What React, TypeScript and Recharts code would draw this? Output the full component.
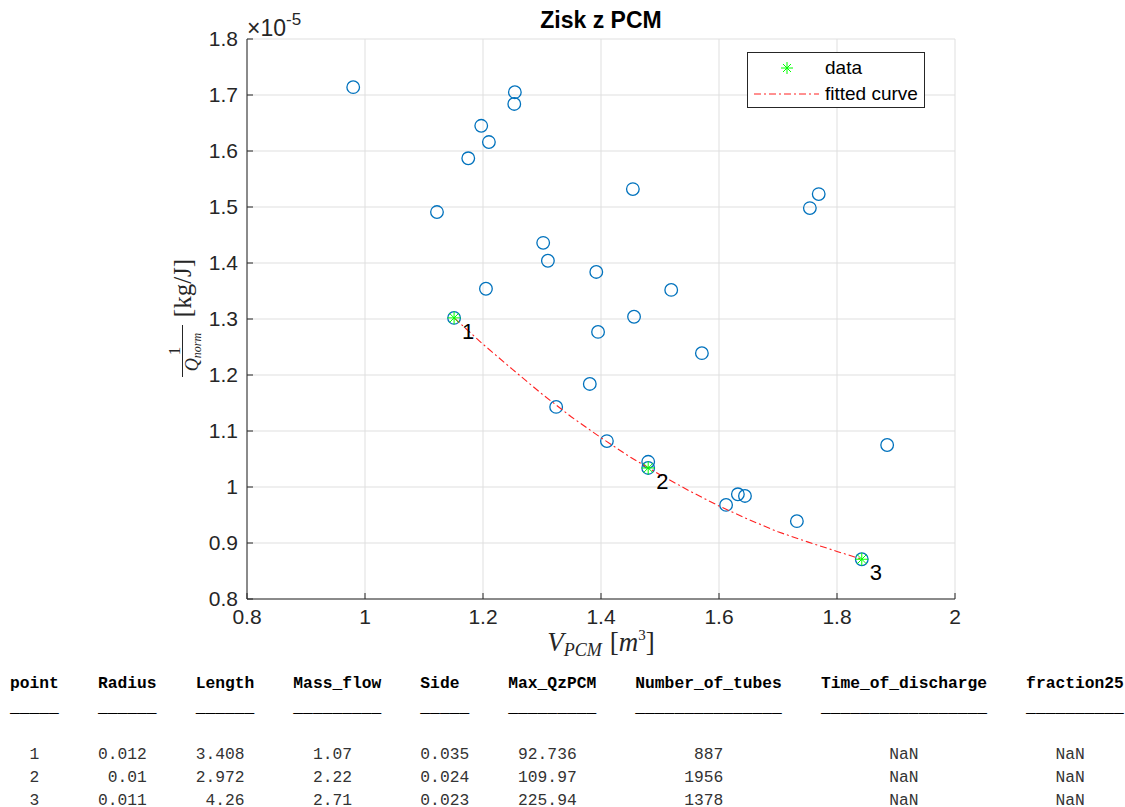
import { ScatterChart, Scatter, XAxis, YAxis, CartesianGrid, Legend } from 'recharts'

const xTicks = [0.8, 1, 1.2, 1.4, 1.6, 1.8, 2]
const yTicks = [0.8, 0.9, 1, 1.1, 1.2, 1.3, 1.4, 1.5, 1.6, 1.7, 1.8]

// V_PCM [m3] and 1/Q_norm (x 1e-5) for every tested design
const vPcm = [0.98, 1.122, 1.175, 1.197, 1.21, 1.254, 1.253, 1.205, 1.302, 1.31, 1.151, 1.324, 1.381, 1.392, 1.395,
  1.41, 1.454, 1.456, 1.48, 1.48, 1.519, 1.571, 1.612, 1.632, 1.644, 1.732, 1.754, 1.769, 1.842, 1.885]
const invQ = [1.714, 1.491, 1.587, 1.645, 1.616, 1.705, 1.684, 1.354, 1.436, 1.404, 1.302, 1.143, 1.184, 1.384, 1.277,
  1.082, 1.532, 1.304, 1.045, 1.034, 1.352, 1.239, 0.968, 0.987, 0.984, 0.939, 1.498, 1.523, 0.871, 1.075]

// pareto points picked for the fit
const fitLabels = ['1', '2', '3']
const fitX = [1.151, 1.48, 1.842]
const fitY = [1.302, 1.034, 0.871]

// fitted curve
const curveX = [1.151, 1.2, 1.25, 1.3, 1.35, 1.4, 1.45, 1.5, 1.55, 1.6, 1.65, 1.7, 1.75, 1.8, 1.842]
const curveY = [1.302, 1.255, 1.21, 1.166, 1.125, 1.088, 1.053, 1.022, 0.993, 0.966, 0.942, 0.92, 0.902, 0.885, 0.871]

// table under the plot
const headers = ['point', 'Radius', 'Length', 'Mass_flow', 'Side', 'Max_QzPCM', 'Number_of_tubes', 'Time_of_discharge', 'fraction25']
const headerCol = [0, 9, 19, 29, 42, 51, 64, 83, 104]
const colWidth = [5, 6, 6, 9, 5, 9, 15, 17, 10]
const valueEndCol = [3, 14, 24, 35, 47, 58, 73, 93, 110]
const pointNo = ['1', '2', '3']
const radius = ['0.012', '0.01', '0.011']
const length = ['3.408', '2.972', '4.26']
const massFlow = ['1.07', '2.22', '2.71']
const side = ['0.035', '0.024', '0.023']
const maxQz = ['92.736', '109.97', '225.94']
const tubes = ['887', '1956', '1378']
const timeDischarge = ['NaN', 'NaN', 'NaN']
const fraction25 = ['NaN', 'NaN', 'NaN']

const points = vPcm.map((x, i) => ({ x, y: invQ[i] }))
const fitPoints = fitX.map((x, i) => ({ x, y: fitY[i], label: fitLabels[i] }))
const curve = curveX.map((x, i) => ({ x, y: curveY[i] }))

const AXIS = '#262626'
const FIT_RED = '#ff2020'
const SANS = '"Liberation Sans", Arial, Helvetica, sans-serif'
const SERIF = '"Liberation Serif", "Times New Roman", serif'
const MONO = '"Liberation Mono", "Courier New", monospace'

function buildLine(cells: string[], startCols: number[], endCols?: number[]) {
  let s = ''
  cells.forEach((c, i) => {
    const start = endCols ? endCols[i] - c.length : startCols[i]
    s = s.padEnd(start, ' ') + c
  })
  return s
}

const headerLine = buildLine(headers, headerCol)
const underLine = buildLine(colWidth.map((w) => '_'.repeat(w)), headerCol)
const rows = pointNo.map((p, i) =>
  buildLine([p, radius[i], length[i], massFlow[i], side[i], maxQz[i], tubes[i], timeDischarge[i], fraction25[i]], headerCol, valueEndCol)
)

const Circle = (props: any) => (
  <circle cx={props.cx} cy={props.cy} r={6.3} fill="none" stroke="#0072BD" strokeWidth={1.3} />
)

const Star = (props: any) => {
  const { cx, cy, payload } = props
  const r = 6.5
  const d = 4.6
  return (
    <g>
      <g stroke="#00FF00" strokeWidth={1}>
        <line x1={cx - r} y1={cy} x2={cx + r} y2={cy} />
        <line x1={cx} y1={cy - r} x2={cx} y2={cy + r} />
        <line x1={cx - d} y1={cy - d} x2={cx + d} y2={cy + d} />
        <line x1={cx - d} y1={cy + d} x2={cx + d} y2={cy - d} />
      </g>
      <text x={cx + 8} y={cy + 21} fontSize={22} fontFamily={SANS} fill="#000">{payload.label}</text>
    </g>
  )
}

function LegendBox({ payload }: any) {
  const items = (payload || []).filter((p: any) => p.type !== 'none' && p.value !== 'points')
  items.sort((a: any) => (a.value === 'data' ? -1 : 1))
  return (
    <div style={{ width: 178, height: 56, border: `1px solid ${AXIS}`, background: '#fff', boxSizing: 'border-box', fontFamily: SANS, fontSize: 19, color: '#000', paddingTop: 2 }}>
      {items.map((p: any) => (
        <div key={p.value} style={{ display: 'flex', alignItems: 'center', height: 26 }}>
          <svg width={76} height={26}>
            {p.value === 'data' ? (
              <g stroke="#00FF00" strokeWidth={1}>
                <line x1={33} y1={13} x2={45} y2={13} />
                <line x1={39} y1={7} x2={39} y2={19} />
                <line x1={35} y1={9} x2={43} y2={17} />
                <line x1={35} y1={17} x2={43} y2={9} />
              </g>
            ) : (
              <line x1={6} y1={13} x2={71} y2={13} stroke={FIT_RED} strokeWidth={1} strokeDasharray="7 3 2 3" />
            )}
          </svg>
          <span style={{ marginLeft: 1 }}>{p.value}</span>
        </div>
      ))}
    </div>
  )
}

export default function App() {
  const tick = { fill: AXIS, fontSize: 21, fontFamily: SANS }
  return (
    <div style={{ position: 'absolute', left: 0, top: 0, width: 1125, height: 807, background: '#fff', overflow: 'hidden' }}>
      <ScatterChart width={1125} height={660} margin={{ top: 39, right: 170, left: 187, bottom: 31 }}>
        <CartesianGrid stroke="#dfdfdf" />
        <XAxis type="number" dataKey="x" domain={[0.8, 2]} ticks={xTicks} tick={tick} stroke={AXIS}
          tickSize={-6} tickMargin={16} tickFormatter={(v: number) => `${+v.toFixed(2)}`} />
        <YAxis type="number" dataKey="y" domain={[0.8, 1.8]} ticks={yTicks} tick={tick} stroke={AXIS} width={60}
          tickSize={-6} tickMargin={15} tickFormatter={(v: number) => `${+v.toFixed(2)}`} />
        <Legend layout="horizontal" verticalAlign="middle" align="center" content={<LegendBox />}
          wrapperStyle={{ left: 747, top: 52, width: 178, height: 56, right: 'auto', bottom: 'auto' }} />
        <Scatter name="points" data={points} shape={<Circle />} legendType="none" isAnimationActive={false} />
        <Scatter name="fitted curve" data={curve} line={{ stroke: FIT_RED, strokeWidth: 1.1, strokeDasharray: '7 3 2 3' }}
          lineType="joint" shape={() => <g />} isAnimationActive={false} />
        <Scatter name="data" data={fitPoints} shape={<Star />} isAnimationActive={false} />
      </ScatterChart>

      <svg width={1125} height={807} style={{ position: 'absolute', left: 0, top: 0, pointerEvents: 'none' }}>
        <text x={601} y={28} textAnchor="middle" fontFamily={SANS} fontWeight="bold" fontSize={23} fill="#000">Zisk z PCM</text>
        <text x={247} y={36} fontFamily={SANS} fontSize={23} fill={AXIS}>
          ×10<tspan dy={-11} fontSize={17}>-5</tspan>
        </text>
        <g fontFamily={SERIF} fill={AXIS}>
          <text x={180} y={351} transform="rotate(-90 180 351)" textAnchor="middle" fontSize={17}>1</text>
          <line x1={182.5} y1={325} x2={182.5} y2={377} stroke={AXIS} strokeWidth={1} />
          <text x={198} y={352} transform="rotate(-90 198 352)" textAnchor="middle" fontSize={18}>
            <tspan fontStyle="italic">Q</tspan><tspan fontStyle="italic" fontSize={12} dy={3}>norm</tspan>
          </text>
          <text x={191} y={288} transform="rotate(-90 191 288)" textAnchor="middle" fontSize={25}>[kg/J]</text>
        </g>
        <text x={601} y={651} textAnchor="middle" fontFamily={SERIF} fontSize={27} fill={AXIS}>
          <tspan fontStyle="italic">V</tspan>
          <tspan fontStyle="italic" fontSize={18} dy={5}>PCM</tspan>
          <tspan dy={-5} dx={8}>[</tspan>
          <tspan fontStyle="italic">m</tspan>
          <tspan fontSize={15} dy={-11}>3</tspan>
          <tspan dy={11}>]</tspan>
        </text>
      </svg>

      <div style={{ position: 'absolute', left: 10, top: 0, fontFamily: MONO, fontSize: 16.3, lineHeight: '16px', whiteSpace: 'pre' }}>
        <div style={{ position: 'absolute', top: 676, fontWeight: 'bold', color: '#000' }}>{headerLine}</div>
        <div style={{ position: 'absolute', top: 700, fontWeight: 'bold', color: '#000' }}>{underLine}</div>
        {rows.map((r, i) => (
          <div key={i} style={{ position: 'absolute', top: 747 + i * 23, color: '#333' }}>{r}</div>
        ))}
      </div>
    </div>
  )
}
